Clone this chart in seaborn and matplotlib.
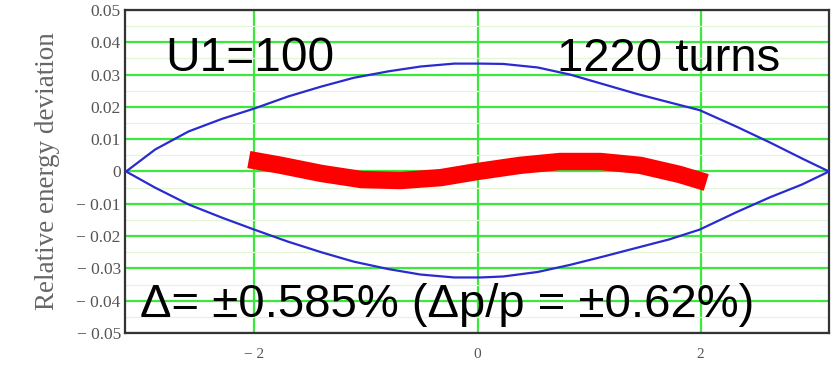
import numpy as np
import pandas as pd
import matplotlib
matplotlib.use("Agg")
import matplotlib.pyplot as plt
import seaborn as sns

# Separatrix, phase in rad
sep_phase = [-3.15, -2.89, -2.59, -2.29, -2.0, -1.70, -1.40, -1.11, -0.80, -0.51,
             -0.21, 0.03, 0.23, 0.54, 0.83, 1.13, 1.43, 1.72, 1.99, 2.32, 2.62, 2.91, 3.15]
sep_upper = [0.0, 0.0068, 0.0124, 0.0163, 0.0195, 0.0232, 0.0263, 0.0290, 0.0310, 0.0325,
             0.0334, 0.0334, 0.0333, 0.0322, 0.0300, 0.0270, 0.0240, 0.0214, 0.0190, 0.0139,
             0.0090, 0.0040, 0.0]
sep_lower = [0.0, -0.0050, -0.0102, -0.0143, -0.0180, -0.0217, -0.0250, -0.0279, -0.0302, -0.0319,
             -0.0328, -0.0328, -0.0325, -0.0311, -0.0289, -0.0263, -0.0236, -0.0210, -0.0180, -0.0126,
             -0.0080, -0.0040, 0.0]

# Tracked particles after 1220 turns
beam_phase = [-2.05, -1.76, -1.40, -1.04, -0.69, -0.33, 0.0, 0.38, 0.74, 1.10, 1.46, 1.81, 2.05]
beam_dev = [0.0037, 0.0019, -0.0006, -0.0025, -0.0028, -0.0019, 0.0, 0.0019, 0.0031, 0.0031,
            0.0019, -0.0009, -0.0034]

y_ticks = [0.05, 0.04, 0.03, 0.02, 0.01, 0.0, -0.01, -0.02, -0.03, -0.04, -0.05]
y_labels = ["0.05", "0.04", "0.03", "0.02", "0.01", "0", "\u2212 0.01", "\u2212 0.02",
            "\u2212 0.03", "\u2212 0.04", "\u2212 0.05"]
x_ticks = [-2, 0, 2]
x_labels = ["\u2212 2", "0", "2"]

sep = pd.DataFrame({"phase": sep_phase, "upper": sep_upper, "lower": sep_lower})
beam = pd.DataFrame({"phase": beam_phase, "dev": beam_dev})

sns.set_style("white")
plt.rcParams["font.family"] = ["Liberation Sans", "DejaVu Sans"]

fig = plt.figure(figsize=(8.36, 3.67), dpi=100)
ax = fig.add_axes([0.1495, 0.0926, 0.8421, 0.8802])

# grid
ax.set_yticks(np.arange(-0.05, 0.0501, 0.005), minor=True)
ax.grid(True, which="major", color="#3be83b", linewidth=1.6, zorder=0)
ax.grid(True, which="minor", axis="y", color="#e3f7d8", linewidth=0.9, zorder=0)

sns.lineplot(data=sep, x="phase", y="upper", ax=ax, color="#2a2ad0", linewidth=1.6,
             estimator=None, sort=False, zorder=3)
sns.lineplot(data=sep, x="phase", y="lower", ax=ax, color="#2a2ad0", linewidth=1.6,
             estimator=None, sort=False, zorder=3)
sns.lineplot(data=beam, x="phase", y="dev", ax=ax, color="#ff0000", linewidth=12.5,
             estimator=None, sort=False, zorder=4, solid_capstyle="butt")

ax.set_xlim(-3.16, 3.15)
ax.set_ylim(-0.05, 0.05)
ax.set_xticks(x_ticks)
ax.set_xticklabels(x_labels)
ax.set_yticks(y_ticks)
ax.set_yticklabels(y_labels)
ax.tick_params(axis="y", which="major", length=3, pad=0, colors="#555555")
ax.tick_params(axis="x", which="major", length=3, pad=8, colors="#555555")
ax.tick_params(which="minor", length=0)
for lab in ax.get_yticklabels():
    lab.set_family("Liberation Serif")
    lab.set_fontsize(12.5)
for lab in ax.get_xticklabels():
    lab.set_family("Liberation Serif")
    lab.set_fontsize(11)

ax.set_xlabel("")
ax.set_ylabel("Relative energy deviation", family="Liberation Serif", fontsize=19.5,
              color="#666666", labelpad=12)

for s in ax.spines.values():
    s.set_color("#333333")
    s.set_linewidth(1.6)

ax.text(0.057, 0.81, "U1=100", transform=ax.transAxes, fontsize=34.5, color="black")
ax.text(0.614, 0.81, "1220 turns", transform=ax.transAxes, fontsize=34, color="black")
ax.text(0.021, 0.05, "\u0394= \u00b10.585% (\u0394p/p = \u00b10.62%)", transform=ax.transAxes,
        fontsize=34, color="black")

fig.savefig("out.png", dpi=100)
